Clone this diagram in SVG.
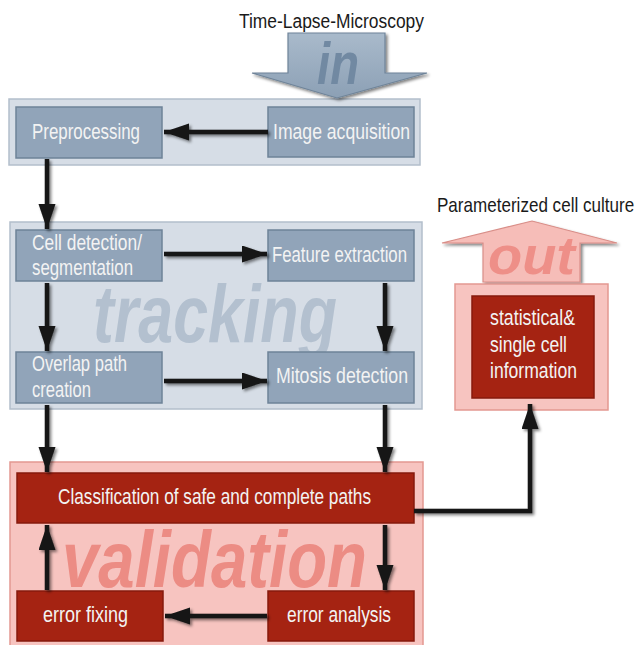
<svg xmlns="http://www.w3.org/2000/svg" width="640" height="645" viewBox="0 0 640 645">
<defs>
<style>
.cg{fill:#d6dde6;stroke:#b3becb;stroke-width:1.5}
.cp{fill:#f7c4c0;stroke:#e39891;stroke-width:1.5}
.ng{fill:#91a4b9;stroke:#6e8398;stroke-width:1.5}
.nr{fill:#a52312;stroke:#861a0c;stroke-width:1.5}
.t{font-family:"Liberation Sans",Arial,sans-serif;font-size:22px;fill:#f3f3f3}
.lbl{font-family:"Liberation Sans",Arial,sans-serif;font-size:20px;fill:#1a1a1a}
.big{font-family:"Liberation Sans",Arial,sans-serif;font-weight:bold;font-style:italic}
.c{fill:none;stroke:#141414;stroke-width:4.5;marker-end:url(#ah)}
</style>
<marker id="ah" markerUnits="userSpaceOnUse" markerWidth="26" markerHeight="18" refX="25" refY="8.5" orient="auto">
<path d="M0,0 L25,8.5 L0,17 z" fill="#141414"/>
</marker>
<filter id="sh" x="-10%" y="-10%" width="125%" height="125%">
<feGaussianBlur in="SourceAlpha" stdDeviation="1.5"/>
<feOffset dx="2" dy="2" result="b"/>
<feComponentTransfer><feFuncA type="linear" slope="0.5"/></feComponentTransfer>
<feMerge><feMergeNode/><feMergeNode in="SourceGraphic"/></feMerge>
</filter>
<linearGradient id="gin" x1="0" y1="0" x2="0" y2="1">
<stop offset="0" stop-color="#a9bacb"/>
<stop offset="1" stop-color="#8ca0b5"/>
</linearGradient>
</defs>

<!-- containers -->
<g id="grp-preprocessing"><rect class="cg" x="9" y="99" width="411" height="66"/></g>
<g id="grp-tracking">
<rect class="cg" x="10" y="222" width="412" height="187"/>
<text class="big" x="93" y="342" font-size="82" fill="#b3c0cf" textLength="244" lengthAdjust="spacingAndGlyphs">tracking</text>
</g>
<g id="grp-validation">
<rect class="cg cp" x="10" y="462" width="413" height="190"/>
<text class="big" x="62" y="587" font-size="80" fill="#ec8c84" textLength="305" lengthAdjust="spacingAndGlyphs">validation</text>
</g>

<!-- in arrow -->
<g id="in-arrow">
<text class="lbl" x="239" y="28" textLength="185" lengthAdjust="spacingAndGlyphs">Time-Lapse-Microscopy</text>
<path d="M288,33 H385 V73 H427 L337,98 L252,73 H288 Z" fill="url(#gin)" stroke="#6f8499" stroke-width="1.2" filter="url(#sh)"/>
<text class="big" x="317" y="84" font-size="60" fill="#7189a2" textLength="42" lengthAdjust="spacingAndGlyphs">in</text>
</g>

<!-- out arrow -->
<g id="out-arrow">
<text class="lbl" transform="translate(437,212) scale(0.853,1)" x="0" y="0">Parameterized cell culture</text>
<path d="M483,282 V243 H442 L532,221 L617,243 H580 V282 Z" fill="#f6bdb8" stroke="#d98e88" stroke-width="1.2" filter="url(#sh)"/>
<text class="big" x="488" y="274" font-size="54" fill="#ee8f88" textLength="87" lengthAdjust="spacingAndGlyphs">out</text>
</g>

<g id="grp-out"><rect class="cp" x="455" y="284" width="153" height="126"/></g>

<!-- nodes -->
<g id="n-image-acquisition"><rect class="ng" x="268" y="107" width="146" height="50"/>
<text class="t" x="273" y="139" textLength="137" lengthAdjust="spacingAndGlyphs">Image acquisition</text></g>
<g id="n-preprocessing"><rect class="ng" x="16" y="107" width="146" height="51"/>
<text class="t" x="32" y="139" textLength="108" lengthAdjust="spacingAndGlyphs">Preprocessing</text></g>
<g id="n-cell-detection"><rect class="ng" x="16" y="230" width="146" height="51"/>
<text class="t" x="32" y="250" textLength="110" lengthAdjust="spacingAndGlyphs">Cell detection/</text>
<text class="t" x="32" y="275" textLength="101" lengthAdjust="spacingAndGlyphs">segmentation</text></g>
<g id="n-feature-extraction"><rect class="ng" x="268" y="230" width="146" height="51"/>
<text class="t" x="272" y="262" textLength="135" lengthAdjust="spacingAndGlyphs">Feature extraction</text></g>
<g id="n-overlap"><rect class="ng" x="16" y="352" width="146" height="51"/>
<text class="t" x="32" y="371" textLength="95" lengthAdjust="spacingAndGlyphs">Overlap path</text>
<text class="t" x="32" y="397" textLength="59" lengthAdjust="spacingAndGlyphs">creation</text></g>
<g id="n-mitosis"><rect class="ng" x="268" y="352" width="146" height="51"/>
<text class="t" x="276" y="383" textLength="132" lengthAdjust="spacingAndGlyphs">Mitosis detection</text></g>
<g id="n-classification"><rect class="nr" x="17" y="473" width="397" height="50"/>
<text class="t" x="58" y="504" textLength="313" lengthAdjust="spacingAndGlyphs">Classification of safe and complete paths</text></g>
<g id="n-error-fixing"><rect class="nr" x="17" y="591" width="146" height="50"/>
<text class="t" x="43" y="622" textLength="85" lengthAdjust="spacingAndGlyphs">error fixing</text></g>
<g id="n-error-analysis"><rect class="nr" x="268" y="591" width="146" height="50"/>
<text class="t" x="287" y="622" textLength="104" lengthAdjust="spacingAndGlyphs">error analysis</text></g>
<g id="n-statistical"><rect class="nr" x="472" y="296" width="122" height="102"/>
<text class="t" x="490" y="325" textLength="85" lengthAdjust="spacingAndGlyphs">statistical&amp;</text>
<text class="t" x="490" y="352" textLength="77" lengthAdjust="spacingAndGlyphs">single cell</text>
<text class="t" x="490" y="378" textLength="87" lengthAdjust="spacingAndGlyphs">information</text></g>

<!-- connectors -->
<g id="connectors" filter="url(#sh)">
<path class="c" d="M268,132 L164,132"/>
<path class="c" d="M47,159 L47,229"/>
<path class="c" d="M164,254 L267,254"/>
<path class="c" d="M47,283 L47,351"/>
<path class="c" d="M385,283 L385,351"/>
<path class="c" d="M164,381 L267,381"/>
<path class="c" d="M47,405 L47,472"/>
<path class="c" d="M385,405 L385,472"/>
<path class="c" d="M385,525 L385,590"/>
<path class="c" d="M267,616 L165,616"/>
<path class="c" d="M47,590 L47,525"/>
<path class="c" d="M414,511 H530 V404" stroke-linejoin="miter"/>
</g>
</svg>
